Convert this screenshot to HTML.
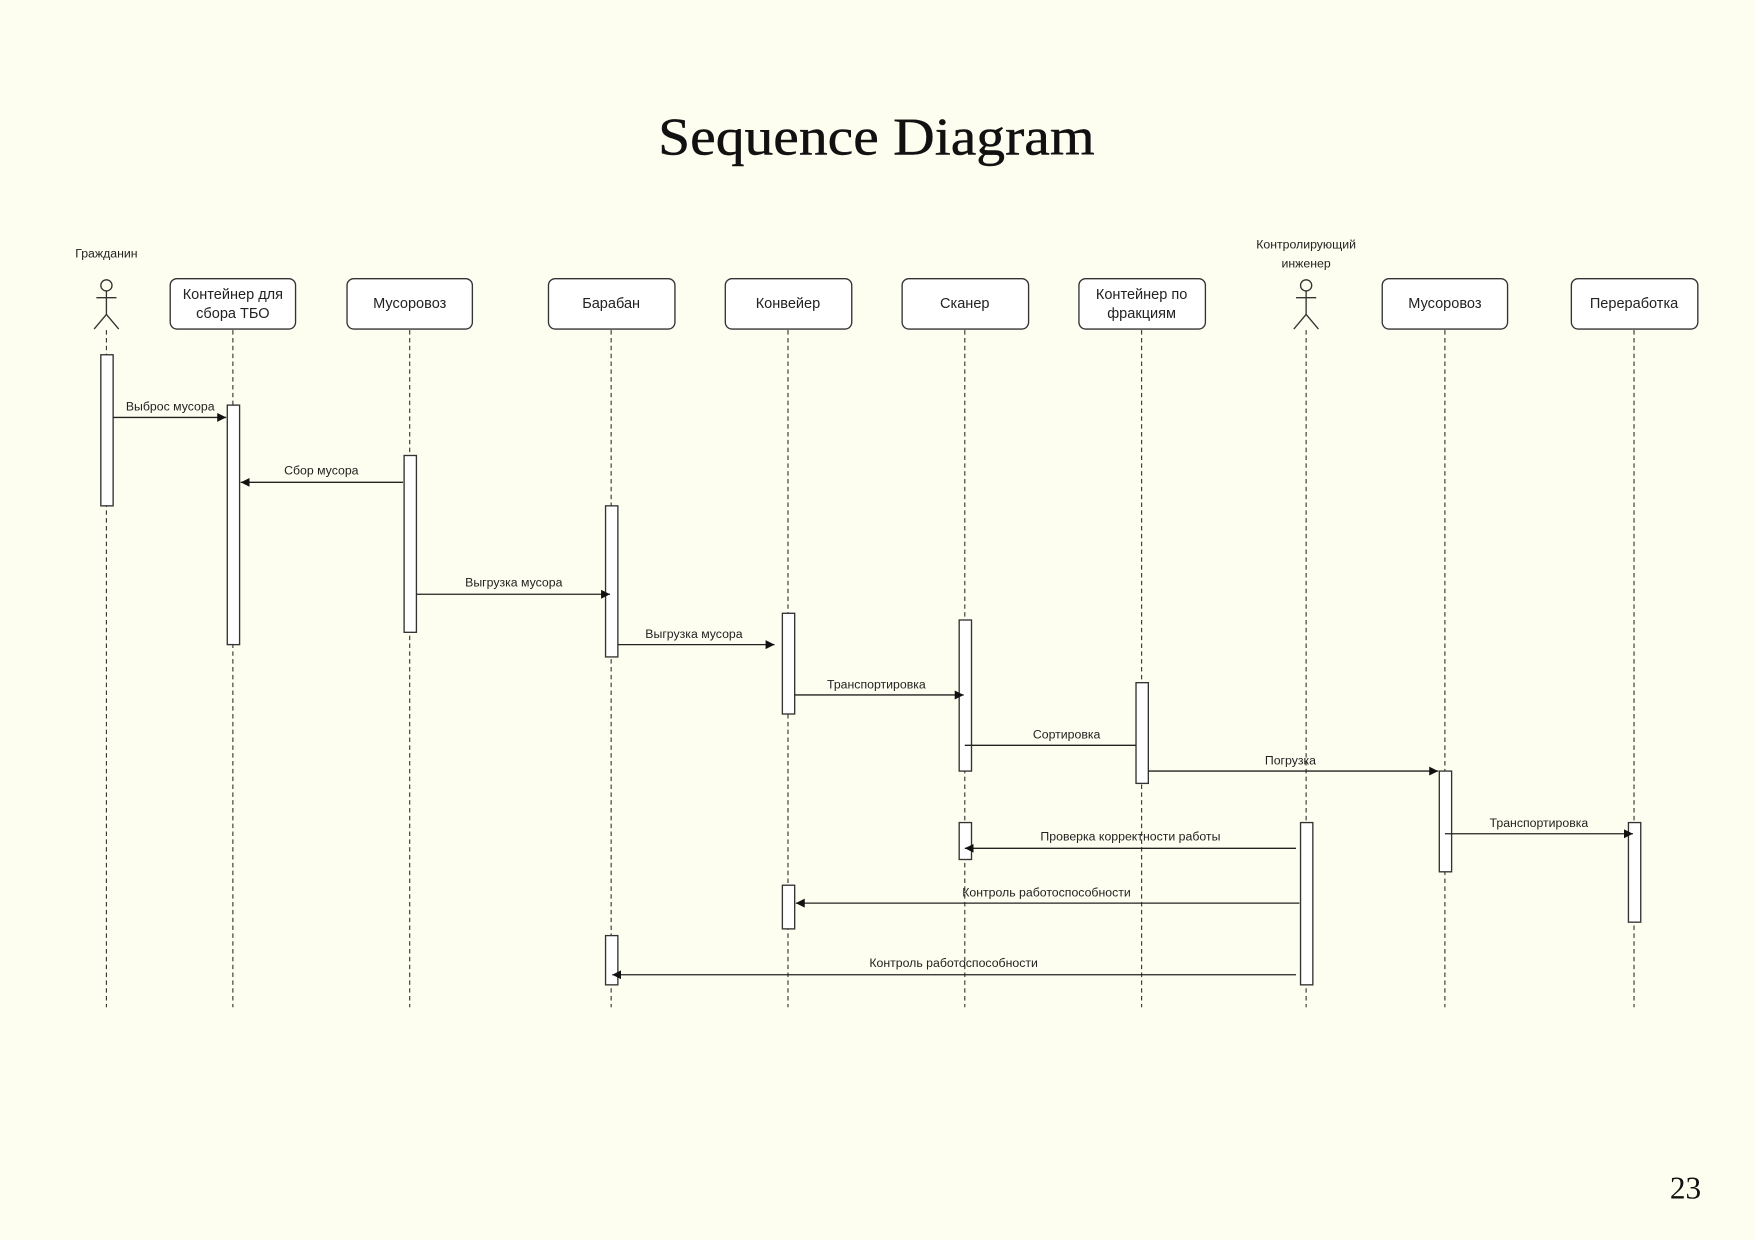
<!DOCTYPE html>
<html><head><meta charset="utf-8"><style>
html,body{margin:0;padding:0;background:#fefef0;}
svg{display:block;}
.t{font-family:"Liberation Sans","DejaVu Sans",sans-serif;font-size:13px;fill:#222;text-anchor:middle;}
.m{font-family:"Liberation Sans","DejaVu Sans",sans-serif;font-size:11px;fill:#222;text-anchor:middle;}
</style></head><body>
<svg width="1755" height="1240" viewBox="0 0 1568 1108" xmlns="http://www.w3.org/2000/svg">
<defs><marker id="a" markerWidth="10" markerHeight="10" refX="8" refY="4" orient="auto" markerUnits="userSpaceOnUse"><path d="M0,0 L8,4 L0,8 Z" fill="#111"/></marker></defs>
<rect width="1568" height="1108" fill="#fefef0"/>
<text x="783" y="138" font-family="Liberation Serif,serif" font-size="47" text-anchor="middle" textLength="390" lengthAdjust="spacingAndGlyphs" fill="#111" stroke="#111" stroke-width="0.4">Sequence Diagram</text>
<text x="1506" y="1071" font-family="Liberation Serif,serif" font-size="28" text-anchor="middle" fill="#111">23</text>
<g stroke="#333" stroke-width="1" stroke-dasharray="4,3">
<line x1="95" y1="295" x2="95" y2="900"/><line x1="208" y1="295" x2="208" y2="900"/>
<line x1="366" y1="295" x2="366" y2="900"/><line x1="546" y1="295" x2="546" y2="900"/>
<line x1="704" y1="295" x2="704" y2="900"/><line x1="862" y1="295" x2="862" y2="900"/>
<line x1="1020" y1="295" x2="1020" y2="900"/><line x1="1167" y1="295" x2="1167" y2="900"/>
<line x1="1291" y1="295" x2="1291" y2="900"/><line x1="1460" y1="295" x2="1460" y2="900"/>
</g>
<g fill="#fff" stroke="#333" stroke-width="1.2">
<rect x="152" y="249" width="112" height="45" rx="6"/><rect x="310" y="249" width="112" height="45" rx="6"/>
<rect x="490" y="249" width="113" height="45" rx="6"/><rect x="648" y="249" width="113" height="45" rx="6"/>
<rect x="806" y="249" width="113" height="45" rx="6"/><rect x="964" y="249" width="113" height="45" rx="6"/>
<rect x="1235" y="249" width="112" height="45" rx="6"/><rect x="1404" y="249" width="113" height="45" rx="6"/>
</g>
<text class="t" x="208" y="267">Контейнер для</text><text class="t" x="208" y="284">сбора ТБО</text>
<text class="t" x="366" y="275">Мусоровоз</text><text class="t" x="546" y="275">Барабан</text>
<text class="t" x="704" y="275">Конвейер</text><text class="t" x="862" y="275">Сканер</text>
<text class="t" x="1020" y="267">Контейнер по</text><text class="t" x="1020" y="284">фракциям</text>
<text class="t" x="1291" y="275">Мусоровоз</text><text class="t" x="1460" y="275">Переработка</text>
<text class="m" x="95" y="230">Гражданин</text>
<text class="m" x="1167" y="222">Контролирующий</text><text class="m" x="1167" y="239">инженер</text>
<g fill="none" stroke="#333" stroke-width="1.2">
<circle cx="95" cy="255" r="5"/><line x1="95" y1="260" x2="95" y2="281"/><line x1="86" y1="266" x2="104" y2="266"/><path d="M84,294 L95,281 L106,294"/>
<circle cx="1167" cy="255" r="5"/><line x1="1167" y1="260" x2="1167" y2="281"/><line x1="1158" y1="266" x2="1176" y2="266"/><path d="M1156,294 L1167,281 L1178,294"/>
</g>
<g fill="#fff" stroke="#333" stroke-width="1.2">
<rect x="90" y="317" width="11" height="135"/><rect x="203" y="362" width="11" height="214"/>
<rect x="361" y="407" width="11" height="158"/><rect x="541" y="452" width="11" height="135"/>
<rect x="541" y="836" width="11" height="44"/><rect x="699" y="548" width="11" height="90"/>
<rect x="699" y="791" width="11" height="39"/><rect x="857" y="554" width="11" height="135"/>
<rect x="857" y="735" width="11" height="33"/><rect x="1015" y="610" width="11" height="90"/>
<rect x="1162" y="735" width="11" height="145"/><rect x="1286" y="689" width="11" height="90"/>
<rect x="1455" y="735" width="11" height="89"/>
</g>
<g stroke="#222" stroke-width="1.2" marker-end="url(#a)">
<line x1="101" y1="373" x2="202" y2="373"/>
<line x1="360" y1="431" x2="215" y2="431"/>
<line x1="372" y1="531" x2="545" y2="531"/>
<line x1="552" y1="576" x2="692" y2="576"/>
<line x1="710" y1="621" x2="861" y2="621"/>
<line x1="1026" y1="689" x2="1285" y2="689"/>
<line x1="1291" y1="745" x2="1459" y2="745"/>
<line x1="1158" y1="758" x2="862" y2="758"/>
<line x1="1161" y1="807" x2="711" y2="807"/>
<line x1="1158" y1="871" x2="547" y2="871"/>
</g>
<line x1="862" y1="666" x2="1015" y2="666" stroke="#222" stroke-width="1.2"/>
<text class="m" x="152" y="367">Выброс мусора</text>
<text class="m" x="287" y="424">Сбор мусора</text>
<text class="m" x="459" y="524">Выгрузка мусора</text>
<text class="m" x="620" y="570">Выгрузка мусора</text>
<text class="m" x="783" y="615">Транспортировка</text>
<text class="m" x="953" y="660">Сортировка</text>
<text class="m" x="1153" y="683">Погрузка</text>
<text class="m" x="1375" y="739">Транспортировка</text>
<text class="m" x="1010" y="751">Проверка корректности работы</text>
<text class="m" x="935" y="801">Контроль работоспособности</text>
<text class="m" x="852" y="864">Контроль работоспособности</text>
</svg>
</body></html>
